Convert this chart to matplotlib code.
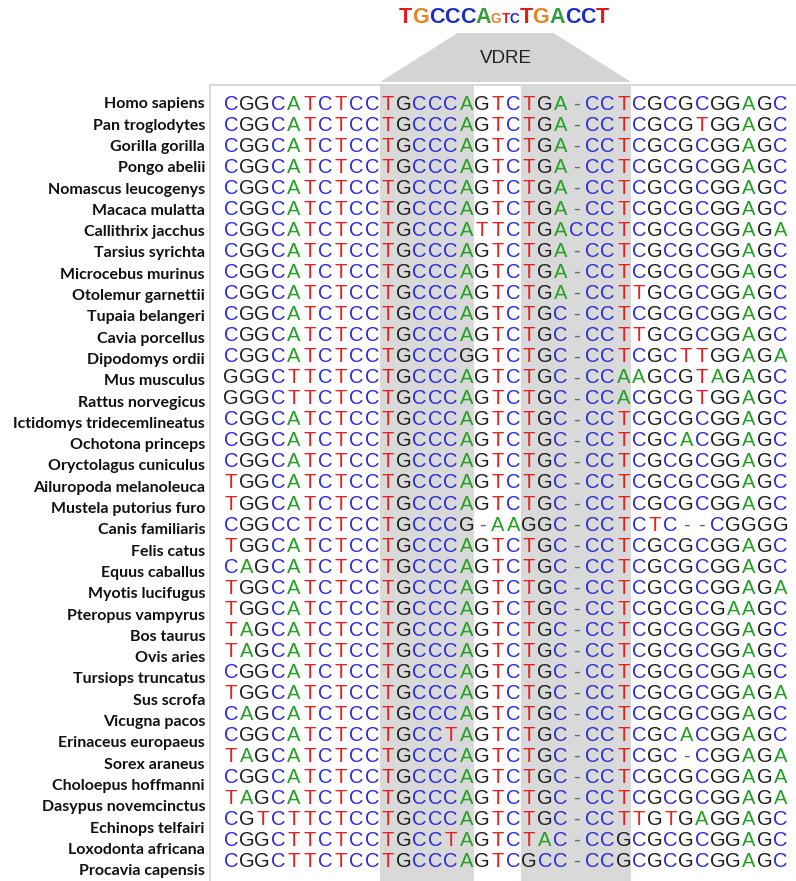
import matplotlib
matplotlib.use("Agg")
import matplotlib.pyplot as plt
from matplotlib.patches import Polygon

# species and their aligned promoter sequences
species = [
    "Homo sapiens", "Pan troglodytes", "Gorilla gorilla", "Pongo abelii",
    "Nomascus leucogenys", "Macaca mulatta", "Callithrix jacchus",
    "Tarsius syrichta", "Microcebus murinus", "Otolemur garnettii",
    "Tupaia belangeri", "Cavia porcellus", "Dipodomys ordii", "Mus musculus",
    "Rattus norvegicus", "Ictidomys tridecemlineatus", "Ochotona princeps",
    "Oryctolagus cuniculus", "Ailuropoda melanoleuca", "Mustela putorius furo",
    "Canis familiaris", "Felis catus", "Equus caballus", "Myotis lucifugus",
    "Pteropus vampyrus", "Bos taurus", "Ovis aries", "Tursiops truncatus",
    "Sus scrofa", "Vicugna pacos", "Erinaceus europaeus", "Sorex araneus",
    "Choloepus hoffmanni", "Dasypus novemcinctus", "Echinops telfairi",
    "Loxodonta africana", "Procavia capensis",
]

sequences = [
    "CGGCATCTCCTGCCCAGTCTGA-CCTCGCGCGGAGC",
    "CGGCATCTCCTGCCCAGTCTGA-CCTCGCGTGGAGC",
    "CGGCATCTCCTGCCCAGTCTGA-CCTCGCGCGGAGC",
    "CGGCATCTCCTGCCCAGTCTGA-CCTCGCGCGGAGC",
    "CGGCATCTCCTGCCCAGTCTGA-CCTCGCGCGGAGC",
    "CGGCATCTCCTGCCCAGTCTGA-CCTCGCGCGGAGC",
    "CGGCATCTCCTGCCCATTCTGACCCTCGCGCGGAGA",
    "CGGCATCTCCTGCCCAGTCTGA-CCTCGCGCGGAGC",
    "CGGCATCTCCTGCCCAGTCTGA-CCTCGCGCGGAGC",
    "CGGCATCTCCTGCCCAGTCTGA-CCTTGCGCGGAGC",
    "CGGCATCTCCTGCCCAGTCTGC-CCTCGCGCGGAGC",
    "CGGCATCTCCTGCCCAGTCTGC-CCTTGCGCGGAGC",
    "CGGCATCTCCTGCCCGGTCTGC-CCTCGCTTGGAGA",
    "GGGCTTCTCCTGCCCAGTCTGC-CCAAGCGTAGAGC",
    "GGGCTTCTCCTGCCCAGTCTGC-CCACGCGTGGAGC",
    "CGGCATCTCCTGCCCAGTCTGC-CCTCGCGCGGAGC",
    "CGGCATCTCCTGCCCAGTCTGC-CCTCGCACGGAGC",
    "CGGCATCTCCTGCCCAGTCTGC-CCTCGCGCGGAGC",
    "TGGCATCTCCTGCCCAGTCTGC-CCTCGCGCGGAGC",
    "TGGCATCTCCTGCCCAGTCTGC-CCTCGCGCGGAGC",
    "CGGCCTCTCCTGCCCG-AAGGC-CCTCTC--CGGGG",
    "TGGCATCTCCTGCCCAGTCTGC-CCTCGCGCGGAGC",
    "CAGCATCTCCTGCCCAGTCTGC-CCTCGCGCGGAGC",
    "TGGCATCTCCTGCCCAGTCTGC-CCTCGCGCGGAGA",
    "TGGCATCTCCTGCCCAGTCTGC-CCTCGCGCGAAGC",
    "TAGCATCTCCTGCCCAGTCTGC-CCTCGCGCGGAGC",
    "TAGCATCTCCTGCCCAGTCTGC-CCTCGCGCGGAGC",
    "CGGCATCTCCTGCCCAGTCTGC-CCTCGCGCGGAGC",
    "TGGCATCTCCTGCCCAGTCTGC-CCTCGCGCGGAGA",
    "CAGCATCTCCTGCCCAGTCTGC-CCTCGCGCGGAGC",
    "CGGCATCTCCTGCCTAGTCTGC-CCTCGCACGGAGC",
    "TAGCATCTCCTGCCCAGTCTGC-CCTCGC-CGGAGA",
    "CGGCATCTCCTGCCCAGTCTGC-CCTCGCGCGGAGA",
    "TAGCATCTCCTGCCCAGTCTGC-CCTCGCGCGGAGA",
    "CGTCTTCTCCTGCCCAGTCTGC-CCTTGTGAGGAGC",
    "CGGCTTCTCCTGCCTAGTCTAC-CCGCGCGCGGAGC",
    "CGGCTTCTCCTGCCCAGTCGCC-CCGCGCGCGGAGC",
]

# first/last alignment column of each VDRE half-site
half_sites = [(10, 15), (19, 25)]

# consensus motif: half-site, spacer (small), half-site
motif = [("TGCCCA", False), ("GTC", True), ("TGACCT", False)]

seq_colors = {"A": "#22a022", "C": "#2b2bdc", "G": "#1e1e1e",
              "T": "#e81e1e", "-": "#666666"}
logo_colors = {"A": "#2f9e3e", "C": "#1c2fc4", "G": "#e8821e", "T": "#e3191c"}

W, H = 796, 881
fig = plt.figure(figsize=(W / 100, H / 100), dpi=100)

# pixel geometry of the alignment grid
left, top = 210, 85
x0, dx = 230.85, 15.7     # centre of first column, column pitch
y0, dy = 103, 21.03       # centre of first row, row pitch
dy_lab = 21.3

ax = fig.add_axes([left / W, 0, 1 - left / W, 1 - top / H])
ax.set_xlim((left - x0) / dx, (W - x0) / dx)
ax.set_ylim((H - y0) / dy, (top - y0) / dy)
ax.set_xticks([])
ax.set_yticks([])
for s in ["right", "bottom"]:
    ax.spines[s].set_visible(False)
for s in ["top", "left"]:
    ax.spines[s].set_color("#d6d6d6")
    ax.spines[s].set_linewidth(1.3)

for a, b in half_sites:
    ax.axvspan(a - 0.5, b + 0.5, color="#d9d9d9", lw=0, zorder=0)

for r, seq in enumerate(sequences):
    for c, ch in enumerate(seq):
        ax.text(c, r + 0.33, ch, ha="center", va="baseline",
                color=seq_colors[ch], fontsize=14.5, family="Liberation Sans")

# VDRE trapezoid spanning both half-sites
mid = (half_sites[0][0] + half_sites[1][1]) / 2
y_bot, y_top = (82 - y0) / dy, (33 - y0) / dy
trap = Polygon([(half_sites[0][0] - 0.5, y_bot), (half_sites[1][1] + 0.5, y_bot),
                (mid + 3.05, y_top), (mid - 3.05, y_top)],
               closed=True, facecolor="#d4d4d4", edgecolor="none", clip_on=False)
ax.add_patch(trap)
ax.text(mid, (y_bot + y_top) / 2 + 0.05, "VDRE", ha="center", va="center",
        fontsize=13.5, family="Liberation Sans", color="#222222")

# species names
axl = fig.add_axes([0, 0, left / W, 1 - top / H])
axl.set_xlim(0, left)
axl.set_ylim((H - y0) / dy_lab, (top - y0) / dy_lab)
axl.axis("off")
for r, name in enumerate(species):
    axl.text(205, r + 0.25, name, ha="right", va="baseline",
             fontsize=11.5, fontweight="bold", family="Lato", color="#111111")

# motif title, letters laid out one after another
renderer = fig.canvas.get_renderer()
letters = []
for part, small in motif:
    for ch in part:
        t = fig.text(0, 1 - 23 / H, ch, ha="left", va="baseline",
                     fontsize=9.8 if small else 15.5, fontweight="bold",
                     family="Liberation Sans", color=logo_colors[ch])
        letters.append(t)
widths = [t.get_window_extent(renderer).width for t in letters]
xpos = 504 - sum(widths) / 2
for t, w in zip(letters, widths):
    t.set_x(xpos / W)
    xpos += w

fig.savefig("out.png", dpi=100)
